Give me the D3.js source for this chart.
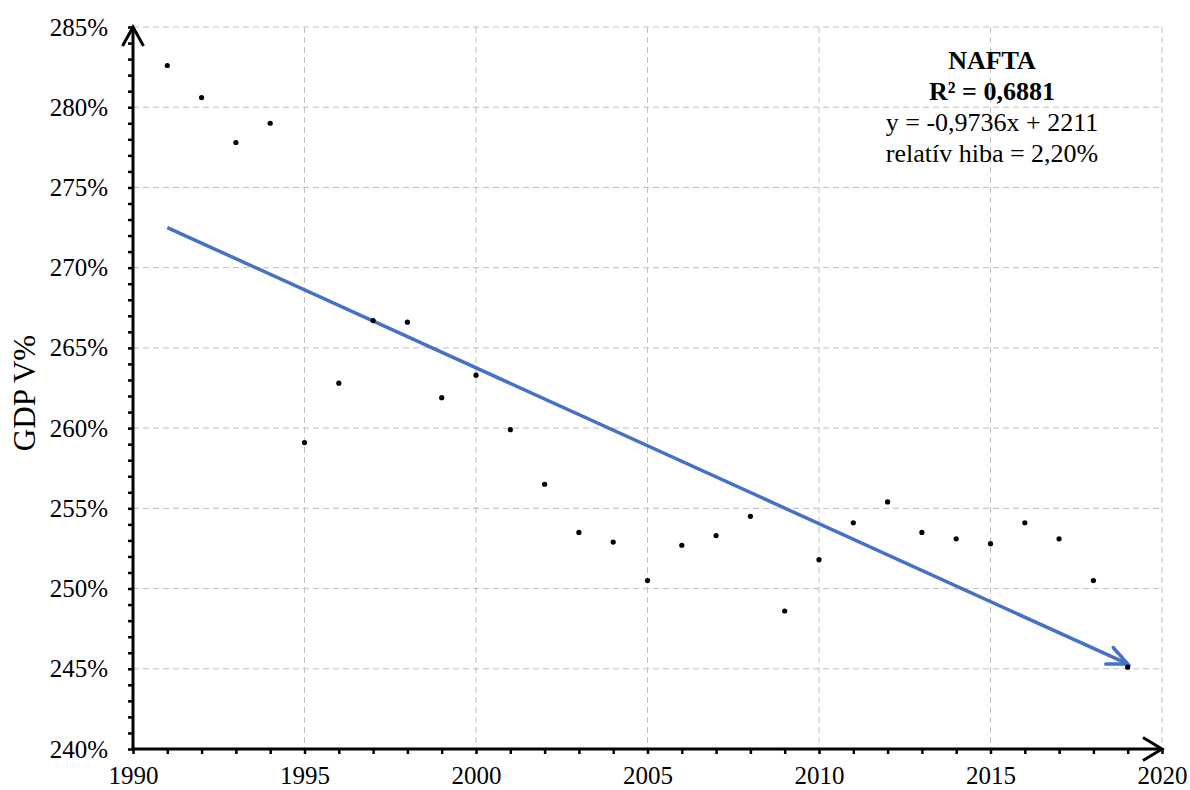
<!DOCTYPE html>
<html>
<head>
<meta charset="utf-8">
<script src="https://cdn.jsdelivr.net/npm/d3@7"></script>
<style>
  body { margin: 0; background: #fff; }
  svg text { font-family: "Liberation Serif", "Times New Roman", serif; }
</style>
</head>
<body>
<div id="chart"></div>
<script>
// data
var years = [1991, 1992, 1993, 1994, 1995, 1996, 1997, 1998, 1999, 2000,
             2001, 2002, 2003, 2004, 2005, 2006, 2007, 2008, 2009, 2010,
             2011, 2012, 2013, 2014, 2015, 2016, 2017, 2018, 2019];
var gdpValues = [282.6, 280.6, 277.8, 279.0, 259.1, 262.8, 266.7, 266.6, 261.9, 263.3,
                 259.9, 256.5, 253.5, 252.9, 250.5, 252.7, 253.3, 254.5, 248.6, 251.8,
                 254.1, 255.4, 253.5, 253.1, 252.8, 254.1, 253.1, 250.5, 245.1];
var trendYears = [1991, 2019];
var trendValues = [272.5, 245.3];
var xTicks = [1990, 1995, 2000, 2005, 2010, 2015, 2020];
var yTicks = [240, 245, 250, 255, 260, 265, 270, 275, 280, 285];
var noteLines = ["NAFTA", "R\u00b2 = 0,6881", "y = -0,9736x + 2211", "relat\u00edv hiba = 2,20%"];

var margin = { top: 27, right: 28, bottom: 41, left: 133 },
    width = 1190 - margin.left - margin.right,
    height = 790 - margin.top - margin.bottom;

var svg = d3.select("#chart")
    .append("svg")
    .attr("width", 1190)
    .attr("height", 790);

var defs = svg.append("defs");
defs.append("marker")
    .attr("id", "arrowY")
    .attr("markerUnits", "userSpaceOnUse")
    .attr("viewBox", "-22 -13 26 26")
    .attr("markerWidth", 26).attr("markerHeight", 26)
    .attr("refX", 0).attr("refY", 0)
    .attr("orient", "auto")
    .append("path")
    .attr("d", "M-19,-10.5L0,0L-19,10.5")
    .attr("fill", "none").attr("stroke", "#000").attr("stroke-width", 3);
defs.append("marker")
    .attr("id", "arrowX")
    .attr("markerUnits", "userSpaceOnUse")
    .attr("viewBox", "-22 -14 26 28")
    .attr("markerWidth", 26).attr("markerHeight", 28)
    .attr("refX", 0).attr("refY", 0)
    .attr("orient", "auto")
    .append("path")
    .attr("d", "M-19,-11.5L0,0L-19,11.5")
    .attr("fill", "none").attr("stroke", "#000").attr("stroke-width", 3);
defs.append("marker")
    .attr("id", "arrowTrend")
    .attr("markerUnits", "userSpaceOnUse")
    .attr("viewBox", "-24 -13 28 26")
    .attr("markerWidth", 28).attr("markerHeight", 26)
    .attr("refX", 0).attr("refY", 0)
    .attr("orient", "auto")
    .append("path")
    .attr("d", "M-20,-9L0,0L-20,9")
    .attr("fill", "none").attr("stroke", "#4472C4").attr("stroke-width", 3.5)
    .attr("stroke-linecap", "round");

var g = svg.append("g")
    .attr("transform", "translate(" + margin.left + "," + margin.top + ")");

var x = d3.scaleLinear().domain([1990, 2020]).range([0, width]);
var y = d3.scaleLinear().domain([240, 285]).range([height, 0]);

// grid
g.selectAll(".hgrid")
    .data(yTicks.filter(function (d) { return d > 240; }))
    .enter().append("line")
    .attr("x1", 0).attr("x2", width)
    .attr("y1", function (d) { return y(d); })
    .attr("y2", function (d) { return y(d); })
    .attr("stroke", "#bfbfbf").attr("stroke-width", 1)
    .attr("stroke-dasharray", "6,4");
g.selectAll(".vgrid")
    .data(xTicks.filter(function (d) { return d > 1990; }))
    .enter().append("line")
    .attr("y1", 0).attr("y2", height)
    .attr("x1", function (d) { return x(d); })
    .attr("x2", function (d) { return x(d); })
    .attr("stroke", "#bfbfbf").attr("stroke-width", 1)
    .attr("stroke-dasharray", "6,4");

// Y axis: ticks every 1%, labels every 5%
var yAxis = g.append("g")
    .call(d3.axisLeft(y)
        .tickValues(d3.range(240, 286, 1))
        .tickSize(5)
        .tickPadding(20)
        .tickFormat(function (d) { return d % 5 === 0 ? d + "%" : ""; }));
yAxis.select(".domain").remove();
yAxis.attr("font-family", null);
yAxis.selectAll(".tick line").attr("stroke-width", 2.5);
yAxis.selectAll("text")
    .style("font-family", "'Liberation Serif', serif")
    .attr("font-size", "25px")
    .attr("fill", "#000");

// X axis: ticks every year, labels every 5 years
var xAxis = g.append("g")
    .attr("transform", "translate(0," + height + ")")
    .call(d3.axisBottom(x)
        .tickValues(d3.range(1990, 2021, 1))
        .tickSize(5)
        .tickPadding(12)
        .tickFormat(function (d) { return d % 5 === 0 ? d : ""; }));
xAxis.select(".domain").remove();
xAxis.attr("font-family", null);
xAxis.selectAll(".tick line").attr("stroke-width", 2.5);
xAxis.selectAll("text")
    .style("font-family", "'Liberation Serif', serif")
    .attr("font-size", "25px")
    .attr("fill", "#000");

// axis lines with arrow heads
g.append("line")
    .attr("x1", 0).attr("y1", height)
    .attr("x2", 0).attr("y2", y(285))
    .attr("stroke", "#000").attr("stroke-width", 3)
    .attr("marker-end", "url(#arrowY)");
g.append("line")
    .attr("x1", 0).attr("y1", height)
    .attr("x2", x(2020)).attr("y2", height)
    .attr("stroke", "#000").attr("stroke-width", 3)
    .attr("marker-end", "url(#arrowX)");

// trend line
g.append("line")
    .attr("x1", x(trendYears[0])).attr("y1", y(trendValues[0]))
    .attr("x2", x(trendYears[1])).attr("y2", y(trendValues[1]))
    .attr("stroke", "#4472C4").attr("stroke-width", 3.5)
    .attr("marker-end", "url(#arrowTrend)");

// points
g.selectAll(".dot")
    .data(years)
    .enter().append("circle")
    .attr("cx", function (d) { return x(d); })
    .attr("cy", function (d, i) { return y(gdpValues[i]); })
    .attr("r", 2.6)
    .attr("fill", "#000");

// y axis title
svg.append("text")
    .attr("transform", "translate(35,393) rotate(-90)")
    .attr("text-anchor", "middle")
    .attr("font-size", "31px")
    .attr("fill", "#000")
    .text("GDP V%");

// annotation
svg.append("g")
    .selectAll("text")
    .data(noteLines)
    .enter().append("text")
    .attr("x", 992)
    .attr("y", function (d, i) { return 69 + i * 31; })
    .attr("text-anchor", "middle")
    .attr("font-size", "26px")
    .attr("font-weight", function (d, i) { return i < 2 ? "bold" : "normal"; })
    .attr("fill", "#000")
    .text(function (d) { return d; });
</script>
</body>
</html>
